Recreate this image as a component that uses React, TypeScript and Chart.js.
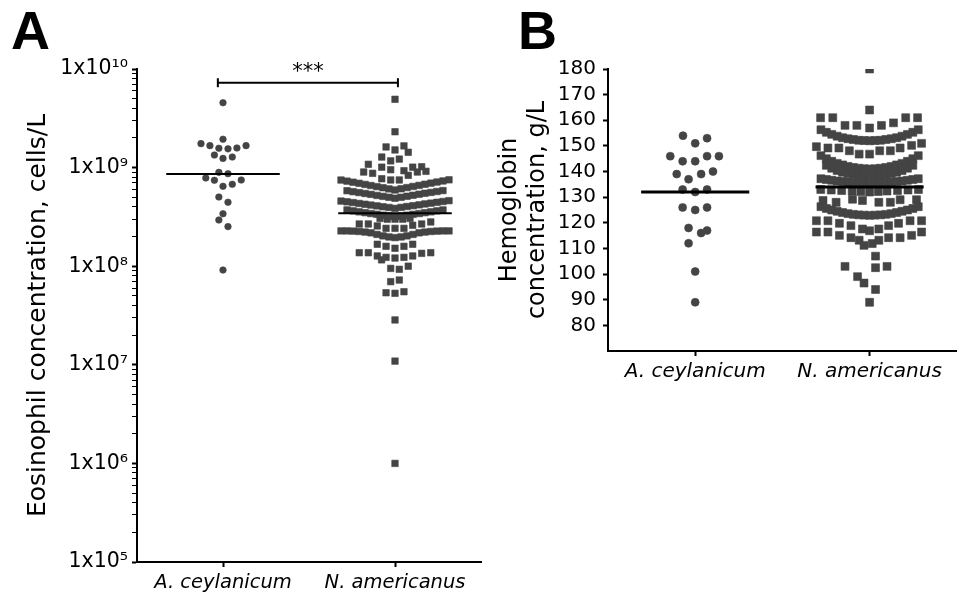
import React, { useEffect, useRef } from 'react';
import { Chart, registerables } from 'chart.js';

Chart.register(...registerables);

// ---------- shared ----------
const categories = ['A. ceylanicum', 'N. americanus'];
const panelLetters = ['A', 'B'];
const markerColor = '#444444';

// ---------- Panel A: eosinophil concentration (cells/L) ----------
// each point: [horizontal offset from its category, value]
const eosCeylanicum: [number, number][] = [
  [0, 4.55e9], [0, 1.94e9], [-0.128, 1.75e9], [-0.076, 1.67e9], [-0.024, 1.57e9],
  [0.029, 1.55e9], [0.081, 1.58e9], [0.134, 1.67e9], [-0.05, 1.34e9], [0, 1.24e9],
  [0.054, 1.28e9], [-0.024, 8.95e8], [0.029, 8.67e8], [-0.1, 7.85e8], [-0.05, 7.43e8],
  [0, 6.46e8], [0.054, 6.77e8], [0.106, 7.48e8], [-0.024, 5.03e8], [0.029, 4.45e8],
  [0, 3.4e8], [-0.024, 2.94e8], [0.029, 2.52e8], [0, 9.14e7],
];

const eosAmericanus: [number, number][] = [
  // upper scattered points
  [0, 4.93e9], [0, 2.31e9], [-0.052, 1.62e9], [0, 1.51e9], [0.052, 1.66e9], [0.077, 1.43e9],
  [-0.077, 1.28e9], [-0.025, 1.17e9], [0.025, 1.22e9], [-0.155, 1.08e9], [-0.182, 9.02e8],
  [-0.13, 8.75e8], [-0.077, 1.01e9], [-0.025, 9.52e8], [0.052, 9.3e8], [0.103, 1.01e9],
  [0.155, 1.02e9], [0.077, 8.35e8], [0.13, 9.02e8], [0.18, 9.17e8], [-0.077, 7.71e8],
  [-0.025, 7.49e8], [0.025, 7.49e8],
  // band 1
  [-0.314, 7.48e8], [-0.279, 7.29e8], [-0.244, 7.11e8], [-0.209, 6.93e8], [-0.174, 6.75e8],
  [-0.14, 6.58e8], [-0.105, 6.41e8], [-0.07, 6.25e8], [-0.035, 6.08e8], [0, 5.93e8],
  [0.035, 6.1e8], [0.07, 6.27e8], [0.105, 6.44e8], [0.14, 6.6e8], [0.174, 6.78e8],
  [0.209, 6.96e8], [0.244, 7.14e8], [0.279, 7.32e8], [0.314, 7.52e8],
  // band 2
  [-0.279, 5.83e8], [-0.244, 5.7e8], [-0.209, 5.58e8], [-0.174, 5.46e8], [-0.14, 5.35e8],
  [-0.105, 5.22e8], [-0.07, 5.11e8], [-0.035, 5.0e8], [0, 4.89e8], [0.035, 5.0e8],
  [0.07, 5.12e8], [0.105, 5.24e8], [0.14, 5.37e8], [0.174, 5.49e8], [0.209, 5.6e8],
  [0.244, 5.72e8], [0.279, 5.85e8],
  // band 3
  [-0.314, 4.58e8], [-0.279, 4.5e8], [-0.244, 4.42e8], [-0.209, 4.33e8], [-0.174, 4.25e8],
  [-0.14, 4.17e8], [-0.105, 4.09e8], [-0.07, 4.01e8], [-0.035, 3.94e8], [0, 3.86e8],
  [0.035, 3.95e8], [0.07, 4.03e8], [0.105, 4.11e8], [0.14, 4.19e8], [0.174, 4.28e8],
  [0.209, 4.36e8], [0.244, 4.45e8], [0.279, 4.53e8], [0.314, 4.62e8],
  // band 4 (around the mean)
  [-0.279, 3.72e8], [-0.244, 3.64e8], [-0.209, 3.56e8], [-0.174, 3.49e8], [-0.14, 3.42e8],
  [-0.105, 3.36e8], [-0.07, 3.29e8], [-0.035, 3.22e8], [0, 3.16e8], [0.035, 3.22e8],
  [0.07, 3.29e8], [0.105, 3.36e8], [0.14, 3.42e8], [0.174, 3.49e8], [0.209, 3.56e8],
  [0.244, 3.64e8], [0.279, 3.72e8],
  // rows below the mean
  [-0.087, 3.05e8], [-0.045, 3.0e8], [0, 3.0e8], [0.045, 3.0e8], [0.087, 3.05e8],
  [-0.208, 2.68e8], [-0.155, 2.68e8], [-0.103, 2.56e8], [-0.052, 2.42e8], [0, 2.42e8],
  [0.052, 2.42e8], [0.103, 2.6e8], [0.155, 2.68e8], [0.208, 2.81e8],
  [-0.314, 2.28e8], [-0.279, 2.28e8], [-0.244, 2.27e8], [-0.209, 2.25e8], [-0.174, 2.22e8],
  [-0.14, 2.18e8], [-0.105, 2.1e8], [-0.07, 2.03e8], [-0.035, 1.98e8], [0, 1.95e8],
  [0.035, 1.98e8], [0.07, 2.03e8], [0.105, 2.1e8], [0.14, 2.18e8], [0.174, 2.22e8],
  [0.209, 2.25e8], [0.244, 2.27e8], [0.279, 2.28e8], [0.314, 2.28e8],
  [-0.103, 1.67e8], [-0.052, 1.59e8], [0, 1.52e8], [0.052, 1.59e8], [0.103, 1.67e8],
  [-0.208, 1.37e8], [-0.155, 1.37e8], [-0.103, 1.27e8], [-0.078, 1.16e8], [-0.052, 1.23e8],
  [0, 1.21e8], [0.052, 1.23e8], [0.103, 1.27e8], [0.155, 1.35e8], [0.208, 1.37e8],
  [-0.025, 9.5e7], [0.025, 9.3e7], [0.077, 1.0e8],
  [-0.025, 6.97e7], [0.025, 7.24e7],
  [-0.052, 5.38e7], [0, 5.31e7], [0.052, 5.51e7],
  [0, 2.85e7], [0, 1.09e7], [0, 1.0e6],
];

const eosMeans = [8.6e8, 3.44e8];
const eosMin = 1e5;
const eosMax = 1e10;
const eosDecades = [1e5, 1e6, 1e7, 1e8, 1e9, 1e10];
const eosDecadeLabels = ['1x10⁵', '1x10⁶', '1x10⁷', '1x10⁸', '1x10⁹', '1x10¹⁰'];
const eosMinorSteps = [2, 3, 4, 5, 6, 7, 8, 9];
const eosTitle = 'Eosinophil concentration, cells/L';
const sigFrom = -0.03;
const sigTo = 1.017;
const sigValue = 7.26e9;
const sigLabel = '***';

// ---------- Panel B: hemoglobin concentration (g/L) ----------
const hbCeylanicum: [number, number][] = [
  [-0.07, 154], [0.068, 153], [0, 151], [-0.143, 146], [-0.072, 144], [0, 144],
  [0.068, 146], [0.136, 146], [-0.106, 139], [-0.038, 137], [0.034, 139], [0.102, 140],
  [-0.072, 133], [0, 132], [0.068, 133], [-0.072, 126], [0, 125], [0.068, 126],
  [-0.038, 118], [0.034, 116], [0.068, 117], [-0.038, 112], [0, 101], [0, 89],
];

const hbAmericanus: [number, number][] = [
  [0, 180], [0, 164],
  [-0.281, 161], [-0.211, 161], [-0.141, 158], [-0.073, 158], [0, 157], [0.068, 158],
  [0.137, 159], [0.207, 161], [0.275, 161],
  // arc 1
  [-0.279, 156.3], [-0.248, 155.3], [-0.217, 154.5], [-0.186, 153.8], [-0.155, 153.2],
  [-0.124, 152.8], [-0.093, 152.5], [-0.062, 152.2], [-0.031, 152.1], [0, 152.0],
  [0.031, 152.1], [0.062, 152.2], [0.093, 152.5], [0.124, 152.8], [0.155, 153.2],
  [0.186, 153.8], [0.217, 154.5], [0.248, 155.3], [0.279, 156.3],
  // row 2
  [-0.305, 149.7], [-0.239, 149.2], [-0.176, 149.2], [-0.116, 148.1], [-0.06, 146.8], [0, 146.8],
  [0.058, 148.1], [0.119, 148.1], [0.175, 149.2], [0.241, 150.2], [0.298, 151.0],
  // arc 3
  [-0.279, 146.2], [-0.248, 145.0], [-0.217, 144.0], [-0.186, 143.2], [-0.155, 142.6],
  [-0.124, 142.0], [-0.093, 141.6], [-0.062, 141.3], [-0.031, 141.1], [0, 141.0],
  [0.031, 141.1], [0.062, 141.3], [0.093, 141.6], [0.124, 142.0], [0.155, 142.6],
  [0.186, 143.2], [0.217, 144.0], [0.248, 145.0], [0.279, 146.2],
  // arc 4
  [-0.248, 142.4], [-0.217, 141.3], [-0.186, 140.4], [-0.155, 139.7], [-0.124, 139.2],
  [-0.093, 138.8], [-0.062, 138.6], [-0.031, 138.5], [0, 138.4], [0.031, 138.5],
  [0.062, 138.6], [0.093, 138.8], [0.124, 139.2], [0.155, 139.7], [0.186, 140.4],
  [0.217, 141.3], [0.248, 142.4],
  // band 5
  [-0.279, 137.2], [-0.248, 136.9], [-0.217, 136.6], [-0.186, 136.3], [-0.155, 136.1],
  [-0.124, 135.9], [-0.093, 135.7], [-0.062, 135.6], [-0.031, 135.5], [0, 135.4],
  [0.031, 135.5], [0.062, 135.6], [0.093, 135.7], [0.124, 135.9], [0.155, 136.1],
  [0.186, 136.3], [0.217, 136.6], [0.248, 136.9], [0.279, 137.2],
  // row 6 (below mean)
  [-0.28, 133.0], [-0.22, 132.8], [-0.16, 132.6], [-0.1, 132.4], [-0.05, 132.2], [0, 132.0],
  [0.05, 132.2], [0.1, 132.4], [0.16, 132.6], [0.22, 132.8], [0.28, 133.0],
  // row 7
  [-0.267, 128.7], [-0.192, 128.0], [-0.098, 129.2], [-0.041, 128.7], [0.053, 128.0],
  [0.119, 128.0], [0.175, 129.0], [0.269, 129.0],
  // arc 8
  [-0.279, 126.3], [-0.248, 125.6], [-0.217, 125.0], [-0.186, 124.5], [-0.155, 124.0],
  [-0.124, 123.6], [-0.093, 123.3], [-0.062, 123.1], [-0.031, 123.0], [0, 122.9],
  [0.031, 123.0], [0.062, 123.1], [0.093, 123.3], [0.124, 123.6], [0.155, 124.0],
  [0.186, 124.5], [0.217, 125.0], [0.248, 125.6], [0.279, 126.3],
  // row 9
  [-0.305, 120.8], [-0.239, 120.8], [-0.173, 119.8], [-0.107, 118.9], [-0.041, 117.6], [0, 116.9],
  [0.053, 117.6], [0.109, 118.9], [0.166, 119.8], [0.232, 120.8], [0.298, 120.8],
  // row 10
  [-0.305, 116.4], [-0.239, 116.4], [-0.173, 115.1], [-0.107, 114.2], [-0.06, 113.2],
  [-0.032, 111.2], [0.015, 111.9], [0.053, 113.2], [0.109, 114.2], [0.175, 114.2],
  [0.241, 115.1], [0.298, 116.4],
  // low tail
  [0.034, 107], [-0.141, 103], [0.034, 102.5], [0.1, 103], [-0.069, 99], [-0.032, 96.5],
  [0.034, 94], [0, 89],
];

const hbMeans = [132, 134];
const hbMin = 70;
const hbMax = 180;
const hbTicks = [80, 90, 100, 110, 120, 130, 140, 150, 160, 170, 180];
const hbTitle = ['Hemoglobin', 'concentration, g/L'];

// ---------- helpers ----------
const FONT = 'DejaVu Sans';

const toPoints = (pts: [number, number][], cat: number) =>
  pts.map(([o, v]) => ({ x: cat + o, y: v }));

const meanLine = (cat: number, value: number, half: number, width: number) => ({
  type: 'line',
  data: [
    { x: cat - half, y: value },
    { x: cat + half, y: value },
  ],
  borderColor: '#000',
  borderWidth: width,
  pointRadius: 0,
  fill: false,
  order: 0,
});

const dotSet = (pts: [number, number][], cat: number, style: string, radius: number) => ({
  type: 'scatter',
  data: toPoints(pts, cat),
  pointStyle: style,
  pointRadius: radius,
  backgroundColor: markerColor,
  borderColor: markerColor,
  borderWidth: 0.6,
  order: 2,
});

const categoryAxis = (height: number, fontSize: number) => ({
  type: 'linear',
  min: -0.5,
  max: 1.5,
  afterBuildTicks: (s: any) => {
    s.ticks = categories.map((_, i) => ({ value: i }));
  },
  afterFit: (s: any) => {
    s.height = height;
  },
  ticks: {
    autoSkip: false,
    maxRotation: 0,
    padding: 4,
    color: '#000',
    font: { family: FONT, size: fontSize, style: 'italic' },
    callback: (v: any) => categories[Math.round(v)] ?? '',
  },
  grid: {
    display: true,
    drawOnChartArea: false,
    drawTicks: true,
    tickLength: 5,
    tickWidth: 2,
    tickColor: '#000',
  },
  border: { display: true, color: '#000', width: 2 },
});

function ChartCanvas({ config, left, width, height }: any) {
  const ref = useRef<HTMLCanvasElement>(null);
  useEffect(() => {
    const chart = new Chart(ref.current as HTMLCanvasElement, config);
    return () => chart.destroy();
  }, []);
  return (
    <canvas
      ref={ref}
      width={width}
      height={height}
      style={{ position: 'absolute', left, top: 0, width, height }}
    />
  );
}

// ---------- Panel A config ----------
const eosTickValues: number[] = [];
eosDecades.forEach((d, i) => {
  eosTickValues.push(d);
  if (i < eosDecades.length - 1) eosMinorSteps.forEach((m) => eosTickValues.push(d * m));
});

const panelAPlugin = {
  id: 'panelA',
  afterDraw(chart: any) {
    const { ctx } = chart;
    const xs = chart.scales.x;
    const ys = chart.scales.y;
    ctx.save();
    ctx.fillStyle = '#000';
    ctx.textBaseline = 'alphabetic';
    ctx.textAlign = 'left';
    ctx.font = 'bold 54px "Liberation Sans"';
    ctx.fillText(panelLetters[0], 11, 49);
    ctx.textAlign = 'center';
    ctx.font = `21px "${FONT}"`;
    ctx.fillText(sigLabel, xs.getPixelForValue((sigFrom + sigTo) / 2), ys.getPixelForValue(sigValue) - 5);
    ctx.restore();
  },
};

const configA: any = {
  type: 'scatter',
  data: {
    datasets: [
      meanLine(0, eosMeans[0], 0.33, 2),
      meanLine(1, eosMeans[1], 0.33, 2),
      {
        type: 'line',
        data: [
          { x: sigFrom, y: sigValue },
          { x: sigTo, y: sigValue },
        ],
        borderColor: '#000',
        borderWidth: 2,
        pointStyle: 'line',
        pointRotation: 90,
        pointRadius: 4.5,
        pointBorderWidth: 2,
        pointBorderColor: '#000',
        fill: false,
        order: 0,
      },
      dotSet(eosCeylanicum, 0, 'circle', 3.3),
      dotSet(eosAmericanus, 1, 'rect', 4.6),
    ],
  },
  options: {
    responsive: false,
    animation: false,
    events: [],
    layout: { padding: { top: 69, left: 0, right: 9, bottom: 0 } },
    plugins: { legend: { display: false }, tooltip: { enabled: false } },
    scales: {
      x: categoryAxis(35, 19.5),
      y: {
        type: 'logarithmic',
        min: eosMin,
        max: eosMax,
        afterBuildTicks: (s: any) => {
          s.ticks = eosTickValues.map((v) => ({ value: v }));
        },
        afterFit: (s: any) => {
          s.width = 137;
        },
        ticks: {
          autoSkip: false,
          padding: 4,
          color: '#000',
          font: { family: FONT, size: 20.5 },
          callback: (v: any) => {
            const i = eosDecades.indexOf(v);
            return i >= 0 ? eosDecadeLabels[i] : '';
          },
        },
        grid: {
          display: true,
          drawOnChartArea: false,
          drawTicks: true,
          tickLength: 5,
          tickColor: '#000',
          tickWidth: (c: any) => (c.tick && eosDecades.indexOf(c.tick.value) >= 0 ? 2 : 1),
        },
        border: { display: true, color: '#000', width: 2 },
        title: {
          display: true,
          text: eosTitle,
          color: '#000',
          font: { family: FONT, size: 25, lineHeight: 1.2 },
          padding: { top: 23, bottom: 0 },
        },
      },
    },
  },
  plugins: [panelAPlugin],
};

// ---------- Panel B config ----------
const panelBPlugin = {
  id: 'panelB',
  afterDraw(chart: any) {
    const { ctx } = chart;
    ctx.save();
    ctx.fillStyle = '#000';
    ctx.textBaseline = 'alphabetic';
    ctx.textAlign = 'left';
    ctx.font = 'bold 54px "Liberation Sans"';
    ctx.fillText(panelLetters[1], 28, 49);
    ctx.restore();
  },
};

const configB: any = {
  type: 'scatter',
  data: {
    datasets: [
      meanLine(0, hbMeans[0], 0.31, 3),
      meanLine(1, hbMeans[1], 0.31, 3),
      dotSet(hbCeylanicum, 0, 'circle', 4),
      dotSet(hbAmericanus, 1, 'rect', 5.6),
    ],
  },
  options: {
    responsive: false,
    animation: false,
    events: [],
    layout: { padding: { top: 69, left: 0, right: 0, bottom: 0 } },
    plugins: { legend: { display: false }, tooltip: { enabled: false } },
    scales: {
      x: categoryAxis(49, 20),
      y: {
        type: 'linear',
        min: hbMin,
        max: hbMax,
        afterBuildTicks: (s: any) => {
          s.ticks = hbTicks.map((v) => ({ value: v }));
        },
        afterFit: (s: any) => {
          s.width = 118;
        },
        ticks: {
          autoSkip: false,
          padding: 7,
          color: '#000',
          font: { family: FONT, size: 20 },
          callback: (v: any) => String(v),
        },
        grid: {
          display: true,
          drawOnChartArea: false,
          drawTicks: true,
          tickLength: 5,
          tickWidth: 2,
          tickColor: '#000',
        },
        border: { display: true, color: '#000', width: 2 },
        title: {
          display: true,
          text: hbTitle,
          color: '#000',
          font: { family: FONT, size: 24, lineHeight: 1.15 },
          padding: { top: 6, bottom: 0 },
        },
      },
    },
  },
  plugins: [panelBPlugin],
};

export default function App() {
  return (
    <div style={{ position: 'absolute', left: 0, top: 0, width: 963, height: 597, background: '#fff' }}>
      <ChartCanvas config={configA} left={0} width={490} height={597} />
      <ChartCanvas config={configB} left={490} width={473} height={400} />
    </div>
  );
}
